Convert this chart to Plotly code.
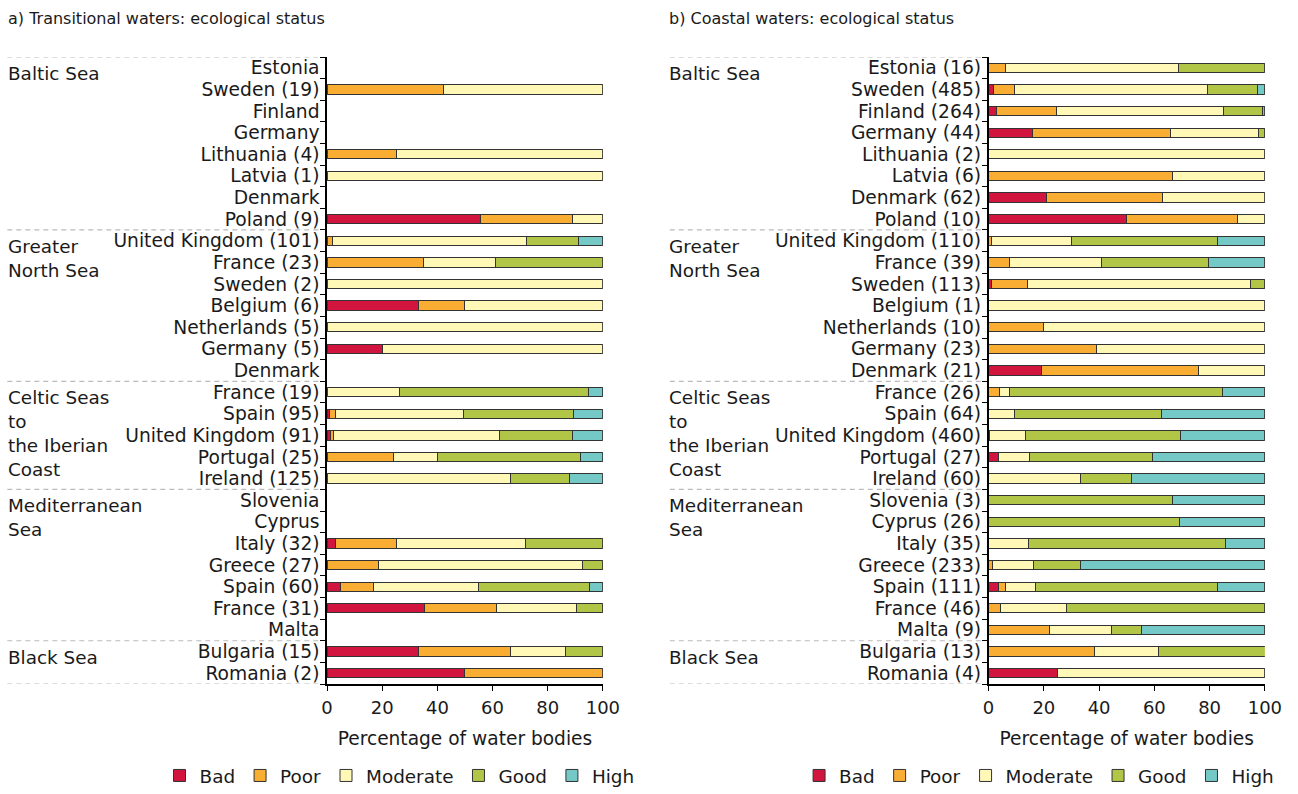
import plotly.graph_objects as go

# ---------------- data ----------------
regions = ["Baltic Sea", "Greater<br>North Sea", "Celtic Seas<br>to<br>the Iberian<br>Coast",
           "Mediterranean<br>Sea", "Black Sea"]
region_sizes = [8, 7, 5, 7, 2]

status_names = ["Bad", "Poor", "Moderate", "Good", "High"]
status_colors = ["#D2153F", "#F9AD33", "#FFF8B6", "#B1C646", "#74C9C7"]

trans_labels = ["Estonia", "Sweden (19)", "Finland", "Germany", "Lithuania (4)", "Latvia (1)", "Denmark", "Poland (9)",
                "United Kingdom (101)", "France (23)", "Sweden (2)", "Belgium (6)", "Netherlands (5)", "Germany (5)", "Denmark",
                "France (19)", "Spain (95)", "United Kingdom (91)", "Portugal (25)", "Ireland (125)",
                "Slovenia", "Cyprus", "Italy (32)", "Greece (27)", "Spain (60)", "France (31)", "Malta",
                "Bulgaria (15)", "Romania (2)"]
trans_bad = [0, 0, 0, 0, 0, 0, 0, 55.6,
             0, 0, 0, 33.3, 0, 20, 0,
             0, 1.05, 1.1, 0, 0,
             0, 0, 3.1, 0, 5, 35.5, 0,
             33.3, 50]
trans_poor = [0, 42.1, 0, 0, 25, 0, 0, 33.3,
              2.0, 34.8, 0, 16.7, 0, 0, 0,
              0, 2.1, 1.1, 24, 0,
              0, 0, 21.9, 18.5, 11.7, 25.8, 0,
              33.3, 50]
trans_moderate = [0, 57.9, 0, 0, 75, 100, 0, 11.1,
                  70.3, 26.1, 100, 50, 100, 80, 0,
                  26.3, 46.3, 60.4, 16, 66.4,
                  0, 0, 46.9, 74.1, 38.3, 29.0, 0,
                  20, 0]
trans_good = [0, 0, 0, 0, 0, 0, 0, 0,
              18.8, 39.1, 0, 0, 0, 0, 0,
              68.4, 40.0, 26.4, 52, 21.6,
              0, 0, 28.1, 7.4, 40, 9.7, 0,
              13.3, 0]
trans_high = [0, 0, 0, 0, 0, 0, 0, 0,
              8.9, 0, 0, 0, 0, 0, 0,
              5.3, 10.5, 11.0, 8, 12.0,
              0, 0, 0, 0, 5, 0, 0,
              0, 0]

coast_labels = ["Estonia (16)", "Sweden (485)", "Finland (264)", "Germany (44)", "Lithuania (2)", "Latvia (6)", "Denmark (62)", "Poland (10)",
                "United Kingdom (110)", "France (39)", "Sweden (113)", "Belgium (1)", "Netherlands (10)", "Germany (23)", "Denmark (21)",
                "France (26)", "Spain (64)", "United Kingdom (460)", "Portugal (27)", "Ireland (60)",
                "Slovenia (3)", "Cyprus (26)", "Italy (35)", "Greece (233)", "Spain (111)", "France (46)", "Malta (9)",
                "Bulgaria (13)", "Romania (4)"]
coast_bad = [0, 1.6, 3.0, 15.9, 0, 0, 21.0, 50,
             0, 0, 0.9, 0, 0, 0, 19.0,
             0, 0, 0, 3.7, 0,
             0, 0, 0, 0, 3.6, 0, 0,
             0, 25]
coast_poor = [6.25, 7.8, 21.4, 50.0, 0, 66.7, 41.9, 40,
              0.9, 7.7, 13.3, 0, 20, 39.1, 57.1,
              3.8, 0, 0.4, 0, 0,
              0, 0, 0, 1.3, 2.7, 4.3, 22.2,
              38.5, 0]
coast_moderate = [62.5, 69.8, 60.5, 31.8, 100, 33.3, 37.1, 10,
                  29.1, 33.3, 80.5, 100, 80, 60.9, 23.8,
                  3.8, 9.4, 13.0, 11.1, 33.3,
                  0, 0, 14.3, 14.8, 10.8, 23.9, 22.2,
                  23.1, 75]
coast_good = [31.25, 18.3, 14.4, 2.3, 0, 0, 0, 0,
              52.7, 38.5, 5.3, 0, 0, 0, 0,
              76.9, 53.1, 56.2, 44.4, 18.3,
              66.7, 69.2, 71.4, 17.2, 65.8, 71.7, 11.1,
              38.5, 0]
coast_high = [0, 2.5, 0.7, 0, 0, 0, 0, 0,
              17.3, 20.5, 0, 0, 0, 0, 0,
              15.4, 37.5, 30.4, 40.7, 48.3,
              33.3, 30.8, 14.3, 66.7, 17.1, 0, 44.4,
              0, 0]

x_ticks = [0, 20, 40, 60, 80, 100]
x_title = "Percentage of water bodies"
titles = ["a) Transitional waters: ecological status", "b) Coastal waters: ecological status"]

# ---------------- figure ----------------
W, H = 1298, 794
FONT = "DejaVu Sans"
TXT = "#1a1a1a"

# horizontal mapping between target picture pixels and figure pixels (measured on the rendered page)
SX, OX = 0.983, 5.7


def fx(px):
    v = (px - OX) / SX / W
    return min(max(v, 0.0), 1.0)


def fy(py):
    return 1 - py / H


fig = go.Figure()

panels = [
    dict(labels=trans_labels, series=[trans_bad, trans_poor, trans_moderate, trans_good, trans_high],
         xa="x", ya="y", legend="legend", x0=327, x1=603, lx=5.7, dash0=7, dash1=320,
         lgx=399.5, lganchor="center"),
    dict(labels=coast_labels, series=[coast_bad, coast_poor, coast_moderate, coast_good, coast_high],
         xa="x2", ya="y2", legend="legend2", x0=989, x1=1265.5, lx=667.5, dash0=670, dash1=984,
         lgx=1279.7, lganchor="right"),
]

y_top, y_bot = 57, 684

for p in panels:
    n = len(p["labels"])
    ypos = list(range(n))
    for name, col, vals in zip(status_names, status_colors, p["series"]):
        fig.add_trace(go.Bar(
            x=[v if v else None for v in vals], y=ypos, orientation="h", name=name,
            marker=dict(color=col, line=dict(color="#333333", width=1)),
            width=0.43, xaxis=p["xa"], yaxis=p["ya"], legend=p["legend"],
            hovertemplate=name + ": %{x:.1f}%<extra></extra>"))

layout_axes = {}
for i, p in enumerate(panels):
    n = len(p["labels"])
    sfx = "" if i == 0 else str(i + 1)
    layout_axes["xaxis" + sfx] = dict(
        domain=[fx(p["x0"]), fx(p["x1"])], anchor=p["ya"], range=[0, 100],
        tickvals=x_ticks, ticks="outside", ticklen=5, tickwidth=1.2, tickcolor="black",
        ticklabelstandoff=2,
        showline=True, linecolor="black", linewidth=1.5, showgrid=False, zeroline=False,
        tickfont=dict(family=FONT, size=18, color=TXT),
        title=dict(text=x_title, font=dict(family=FONT, size=18.6, color=TXT), standoff=15),
        fixedrange=True)
    layout_axes["yaxis" + sfx] = dict(
        domain=[fy(y_bot), fy(y_top)], anchor=p["xa"], range=[n - 0.5, -0.5],
        tickmode="array", tickvals=list(range(n)), ticktext=p["labels"], ticks="",
        ticklabelstandoff=2,
        minor=dict(tickmode="array", tickvals=[k - 0.5 for k in range(n + 1)], ticks="outside",
                   ticklen=5, tickwidth=1.2, tickcolor="black", showgrid=False),
        showline=True, linecolor="black", linewidth=1.5, showgrid=False, zeroline=False,
        tickfont=dict(family=FONT, size=18.7, color=TXT), fixedrange=True)

shapes = []
annotations = []
for i, p in enumerate(panels):
    ya = p["ya"]
    bounds = [-0.5]
    for s in region_sizes:
        bounds.append(bounds[-1] + s)
    for b in bounds:
        shapes.append(dict(type="line", xref="paper", yref=ya, x0=fx(p["dash0"]), x1=fx(p["dash1"]),
                           y0=b, y1=b, line=dict(color="#BBBBBB", width=1.2, dash="5px,4px")))
    for r, b in zip(regions, bounds[:-1]):
        annotations.append(dict(text=r, xref="paper", yref=ya, x=fx(p["lx"]), y=b,
                                xanchor="left", yanchor="top", yshift=-4, align="left", showarrow=False,
                                font=dict(family=FONT, size=18.4, color=TXT)))
    annotations.append(dict(text=titles[i], xref="paper", yref="paper", x=fx(p["lx"]), y=fy(19),
                            xanchor="left", yanchor="middle", showarrow=False,
                            font=dict(family=FONT, size=16, color=TXT)))

fig.update_layout(
    width=W, height=H, margin=dict(l=0, r=0, t=0, b=0),
    paper_bgcolor="white", plot_bgcolor="white",
    barmode="stack", showlegend=True,
    shapes=shapes, annotations=annotations,
    **layout_axes)

for p in panels:
    fig.update_layout({p["legend"]: dict(
        orientation="h", yanchor="bottom", y=0, xanchor=p["lganchor"], x=fx(p["lgx"]),
        font=dict(family=FONT, size=18.4, color=TXT), bgcolor="rgba(0,0,0,0)",
        traceorder="normal", itemclick=False, itemdoubleclick=False)})

fig.write_html("out.html", config={"displayModeBar": False},
               post_script="document.body.style.margin='0';document.body.style.overflow='hidden';")
